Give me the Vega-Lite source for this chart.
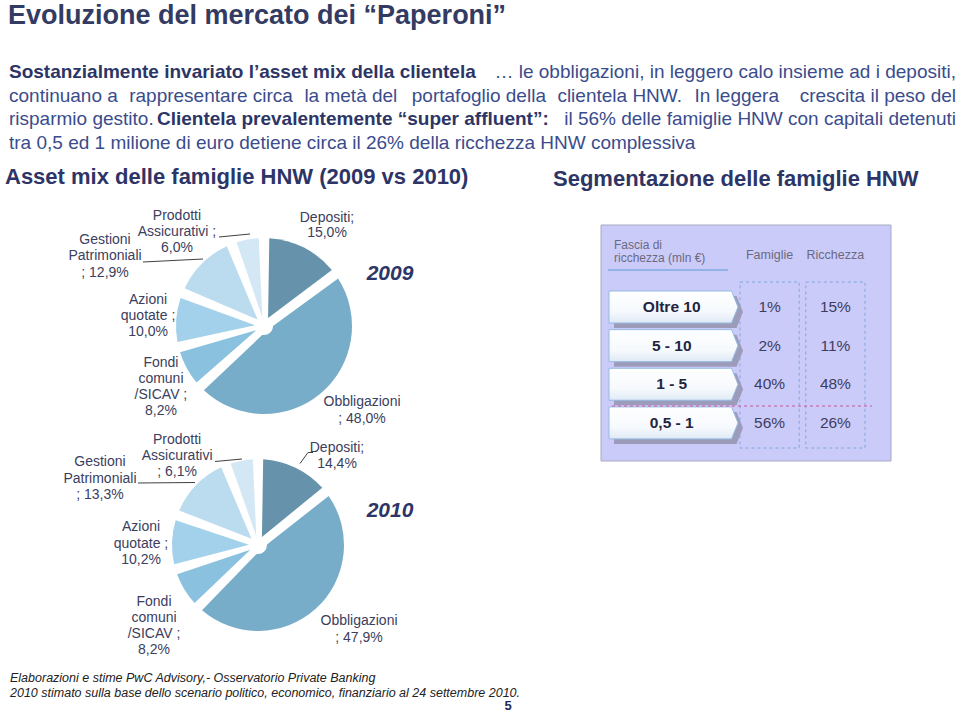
{
 "$schema": "https://vega.github.io/schema/vega-lite/v6.json",
 "width": 960, "height": 713,
 "autosize": {"type": "fit", "contains": "padding"},
 "padding": 0,
 "background": "#ffffff",
 "config": {"view": {"stroke": null}},
 "datasets": {
  "pie": [
   {"year": 2009, "cat": "Depositi", "value": 15.0, "ord": 1, "label": "Depositi;\n15,0%"},
   {"year": 2009, "cat": "Obbligazioni", "value": 48.0, "ord": 2, "label": "Obbligazioni\n; 48,0%"},
   {"year": 2009, "cat": "Fondi comuni /SICAV", "value": 8.2, "ord": 3, "label": "Fondi\ncomuni\n/SICAV ;\n8,2%"},
   {"year": 2009, "cat": "Azioni quotate", "value": 10.0, "ord": 4, "label": "Azioni\nquotate ;\n10,0%"},
   {"year": 2009, "cat": "Gestioni Patrimoniali", "value": 12.9, "ord": 5, "label": "Gestioni\nPatrimoniali\n; 12,9%"},
   {"year": 2009, "cat": "Prodotti Assicurativi", "value": 6.0, "ord": 6, "label": "Prodotti\nAssicurativi ;\n6,0%"},
   {"year": 2010, "cat": "Depositi", "value": 14.4, "ord": 1, "label": "Depositi;\n14,4%"},
   {"year": 2010, "cat": "Obbligazioni", "value": 47.9, "ord": 2, "label": "Obbligazioni\n; 47,9%"},
   {"year": 2010, "cat": "Fondi comuni /SICAV", "value": 8.2, "ord": 3, "label": "Fondi\ncomuni\n/SICAV ;\n8,2%"},
   {"year": 2010, "cat": "Azioni quotate", "value": 10.2, "ord": 4, "label": "Azioni\nquotate ;\n10,2%"},
   {"year": 2010, "cat": "Gestioni Patrimoniali", "value": 13.3, "ord": 5, "label": "Gestioni\nPatrimoniali\n; 13,3%"},
   {"year": 2010, "cat": "Prodotti Assicurativi", "value": 6.1, "ord": 6, "label": "Prodotti\nAssicurativi\n; 6,1%"}
  ],
  "tab": [
   {"tier": "Oltre 10", "col": "Famiglie", "v": 0.01},
   {"tier": "Oltre 10", "col": "Ricchezza", "v": 0.15},
   {"tier": "5 - 10", "col": "Famiglie", "v": 0.02},
   {"tier": "5 - 10", "col": "Ricchezza", "v": 0.11},
   {"tier": "1 - 5", "col": "Famiglie", "v": 0.40},
   {"tier": "1 - 5", "col": "Ricchezza", "v": 0.48},
   {"tier": "0,5 - 1", "col": "Famiglie", "v": 0.56},
   {"tier": "0,5 - 1", "col": "Ricchezza", "v": 0.26}
  ]
 },
 "layer": [
  {"data": {"values": [{"t": "Evoluzione del mercato dei “Paperoni”"}]},
   "mark": {"type": "text", "x": 8, "y": 24, "align": "left", "baseline": "alphabetic", "font": "Liberation Sans", "fontSize": 27, "fontWeight": "bold", "color": "#333b63"},
   "encoding": {"text": {"field": "t", "type": "nominal"}}},

  {"data": {"values": [{"t": "Sostanzialmente invariato l’asset mix della clientela"}]},
   "mark": {"type": "text", "x": 9, "y": 78, "align": "left", "baseline": "alphabetic", "font": "Liberation Sans", "fontSize": 19, "fontWeight": "bold", "color": "#2d3566"},
   "encoding": {"text": {"field": "t", "type": "nominal"}}},
  {"data": {"values": [{"t": "… le obbligazioni, in leggero calo insieme ad i depositi,"}]},
   "mark": {"type": "text", "x": 956, "y": 78, "align": "right", "baseline": "alphabetic", "font": "Liberation Sans", "fontSize": 19, "color": "#3a4c8c"},
   "encoding": {"text": {"field": "t", "type": "nominal"}}},
  {"data": {"values": [{"t": "continuano a"}]},
   "mark": {"type": "text", "x": 9, "y": 101.5, "align": "left", "baseline": "alphabetic", "font": "Liberation Sans", "fontSize": 19, "color": "#3a4c8c"},
   "encoding": {"text": {"field": "t", "type": "nominal"}}},
  {"data": {"values": [{"t": "rappresentare circa"}]},
   "mark": {"type": "text", "x": 129.2, "y": 101.5, "align": "left", "baseline": "alphabetic", "font": "Liberation Sans", "fontSize": 19, "color": "#3a4c8c"},
   "encoding": {"text": {"field": "t", "type": "nominal"}}},
  {"data": {"values": [{"t": "la metà del"}]},
   "mark": {"type": "text", "x": 304.4, "y": 101.5, "align": "left", "baseline": "alphabetic", "font": "Liberation Sans", "fontSize": 19, "color": "#3a4c8c"},
   "encoding": {"text": {"field": "t", "type": "nominal"}}},
  {"data": {"values": [{"t": "portafoglio della"}]},
   "mark": {"type": "text", "x": 411.8, "y": 101.5, "align": "left", "baseline": "alphabetic", "font": "Liberation Sans", "fontSize": 19, "color": "#3a4c8c"},
   "encoding": {"text": {"field": "t", "type": "nominal"}}},
  {"data": {"values": [{"t": "clientela HNW."}]},
   "mark": {"type": "text", "x": 557.4, "y": 101.5, "align": "left", "baseline": "alphabetic", "font": "Liberation Sans", "fontSize": 19, "color": "#3a4c8c"},
   "encoding": {"text": {"field": "t", "type": "nominal"}}},
  {"data": {"values": [{"t": "In leggera"}]},
   "mark": {"type": "text", "x": 694.5, "y": 101.5, "align": "left", "baseline": "alphabetic", "font": "Liberation Sans", "fontSize": 19, "color": "#3a4c8c"},
   "encoding": {"text": {"field": "t", "type": "nominal"}}},
  {"data": {"values": [{"t": "crescita il peso del"}]},
   "mark": {"type": "text", "x": 956, "y": 101.5, "align": "right", "baseline": "alphabetic", "font": "Liberation Sans", "fontSize": 19, "color": "#3a4c8c"},
   "encoding": {"text": {"field": "t", "type": "nominal"}}},
  {"data": {"values": [{"t": "risparmio gestito."}]},
   "mark": {"type": "text", "x": 9, "y": 125, "align": "left", "baseline": "alphabetic", "font": "Liberation Sans", "fontSize": 19, "color": "#3a4c8c"},
   "encoding": {"text": {"field": "t", "type": "nominal"}}},
  {"data": {"values": [{"t": "Clientela prevalentemente “super affluent”:"}]},
   "mark": {"type": "text", "x": 157, "y": 125, "align": "left", "baseline": "alphabetic", "font": "Liberation Sans", "fontSize": 19, "fontWeight": "bold", "color": "#2d3566"},
   "encoding": {"text": {"field": "t", "type": "nominal"}}},
  {"data": {"values": [{"t": "il 56% delle famiglie HNW con capitali detenuti"}]},
   "mark": {"type": "text", "x": 956, "y": 125, "align": "right", "baseline": "alphabetic", "font": "Liberation Sans", "fontSize": 19, "color": "#3a4c8c"},
   "encoding": {"text": {"field": "t", "type": "nominal"}}},
  {"data": {"values": [{"t": "tra 0,5 ed 1 milione di euro detiene circa il 26% della ricchezza HNW complessiva"}]},
   "mark": {"type": "text", "x": 9, "y": 148.5, "align": "left", "baseline": "alphabetic", "font": "Liberation Sans", "fontSize": 19, "color": "#3a4c8c"},
   "encoding": {"text": {"field": "t", "type": "nominal"}}},

  {"data": {"values": [{"t": "Asset mix delle famiglie HNW (2009 vs 2010)"}]},
   "mark": {"type": "text", "x": 5, "y": 184, "align": "left", "baseline": "alphabetic", "font": "Liberation Sans", "fontSize": 22, "fontWeight": "bold", "color": "#2d3566"},
   "encoding": {"text": {"field": "t", "type": "nominal"}}},
  {"data": {"values": [{"t": "Segmentazione delle famiglie HNW"}]},
   "mark": {"type": "text", "x": 553, "y": 186, "align": "left", "baseline": "alphabetic", "font": "Liberation Sans", "fontSize": 22, "fontWeight": "bold", "color": "#2d3566"},
   "encoding": {"text": {"field": "t", "type": "nominal"}}},

  {"data": {"name": "pie"},
   "transform": [{"filter": "datum.year === 2009"}],
   "encoding": {
    "theta": {"field": "value", "type": "quantitative", "stack": true},
    "order": {"field": "ord", "type": "quantitative"}
   },
   "layer": [
    {"mark": {"type": "arc", "x": 264, "y": 326, "outerRadius": 88, "innerRadius": 9, "padAngle": 0.12},
     "encoding": {"color": {"field": "cat", "type": "nominal", "legend": null,
       "scale": {"domain": ["Depositi", "Obbligazioni", "Fondi comuni /SICAV", "Azioni quotate", "Gestioni Patrimoniali", "Prodotti Assicurativi"],
                 "range": ["#6693ab", "#78adc9", "#89c1de", "#a3d0ea", "#bbdbef", "#d4e7f4"]}}}},
    {"mark": {"type": "text", "x": 264, "y": 326, "radius": 118.6, "thetaOffset": 0.089, "dy": -7.75, "align": "center", "baseline": "middle", "lineBreak": "\n", "lineHeight": 15.5, "font": "Liberation Sans", "fontSize": 14, "color": "#3b4060"},
     "encoding": {"text": {"condition": {"test": "datum.cat === 'Depositi'", "field": "label", "type": "nominal"}, "value": ""}}},
    {"mark": {"type": "text", "x": 264, "y": 326, "radius": 129.4, "thetaOffset": -0.166, "dy": -8.25, "align": "center", "baseline": "middle", "lineBreak": "\n", "lineHeight": 16.5, "font": "Liberation Sans", "fontSize": 14, "color": "#3b4060"},
     "encoding": {"text": {"condition": {"test": "datum.cat === 'Obbligazioni'", "field": "label", "type": "nominal"}, "value": ""}}},
    {"mark": {"type": "text", "x": 264, "y": 326, "radius": 119.7, "thetaOffset": -0.033, "dy": -24, "align": "center", "baseline": "middle", "lineBreak": "\n", "lineHeight": 16, "font": "Liberation Sans", "fontSize": 14, "color": "#3b4060"},
     "encoding": {"text": {"condition": {"test": "datum.cat === 'Fondi comuni /SICAV'", "field": "label", "type": "nominal"}, "value": ""}}},
    {"mark": {"type": "text", "x": 264, "y": 326, "radius": 116.4, "thetaOffset": 0.016, "dy": -16, "align": "center", "baseline": "middle", "lineBreak": "\n", "lineHeight": 16, "font": "Liberation Sans", "fontSize": 14, "color": "#3b4060"},
     "encoding": {"text": {"condition": {"test": "datum.cat === 'Azioni quotate'", "field": "label", "type": "nominal"}, "value": ""}}},
    {"mark": {"type": "text", "x": 264, "y": 326, "radius": 173.5, "thetaOffset": -0.377, "dy": -16.5, "align": "center", "baseline": "middle", "lineBreak": "\n", "lineHeight": 16.5, "font": "Liberation Sans", "fontSize": 14, "color": "#3b4060"},
     "encoding": {"text": {"condition": {"test": "datum.cat === 'Gestioni Patrimoniali'", "field": "label", "type": "nominal"}, "value": ""}}},
    {"mark": {"type": "text", "x": 264, "y": 326, "radius": 128.1, "thetaOffset": -0.559, "dy": -16, "align": "center", "baseline": "middle", "lineBreak": "\n", "lineHeight": 16, "font": "Liberation Sans", "fontSize": 14, "color": "#3b4060"},
     "encoding": {"text": {"condition": {"test": "datum.cat === 'Prodotti Assicurativi'", "field": "label", "type": "nominal"}, "value": ""}}}
   ]},

  {"data": {"name": "pie"},
   "transform": [{"filter": "datum.year === 2010"}],
   "encoding": {
    "theta": {"field": "value", "type": "quantitative", "stack": true},
    "order": {"field": "ord", "type": "quantitative"}
   },
   "layer": [
    {"mark": {"type": "arc", "x": 258, "y": 545, "outerRadius": 86, "innerRadius": 9, "padAngle": 0.12},
     "encoding": {"color": {"field": "cat", "type": "nominal", "legend": null,
       "scale": {"domain": ["Depositi", "Obbligazioni", "Fondi comuni /SICAV", "Azioni quotate", "Gestioni Patrimoniali", "Prodotti Assicurativi"],
                 "range": ["#6693ab", "#78adc9", "#89c1de", "#a3d0ea", "#bbdbef", "#d4e7f4"]}}}},
    {"mark": {"type": "text", "x": 258, "y": 545, "radius": 119.0, "thetaOffset": 0.274, "dy": -8, "align": "center", "baseline": "middle", "lineBreak": "\n", "lineHeight": 16, "font": "Liberation Sans", "fontSize": 14, "color": "#3b4060"},
     "encoding": {"text": {"condition": {"test": "datum.cat === 'Depositi'", "field": "label", "type": "nominal"}, "value": ""}}},
    {"mark": {"type": "text", "x": 258, "y": 545, "radius": 131.7, "thetaOffset": -0.140, "dy": -8.25, "align": "center", "baseline": "middle", "lineBreak": "\n", "lineHeight": 16.5, "font": "Liberation Sans", "fontSize": 14, "color": "#3b4060"},
     "encoding": {"text": {"condition": {"test": "datum.cat === 'Obbligazioni'", "field": "label", "type": "nominal"}, "value": ""}}},
    {"mark": {"type": "text", "x": 258, "y": 545, "radius": 131.8, "thetaOffset": -0.117, "dy": -24, "align": "center", "baseline": "middle", "lineBreak": "\n", "lineHeight": 16, "font": "Liberation Sans", "fontSize": 14, "color": "#3b4060"},
     "encoding": {"text": {"condition": {"test": "datum.cat === 'Fondi comuni /SICAV'", "field": "label", "type": "nominal"}, "value": ""}}},
    {"mark": {"type": "text", "x": 258, "y": 545, "radius": 117.0, "thetaOffset": -0.021, "dy": -16.5, "align": "center", "baseline": "middle", "lineBreak": "\n", "lineHeight": 16.5, "font": "Liberation Sans", "fontSize": 14, "color": "#3b4060"},
     "encoding": {"text": {"condition": {"test": "datum.cat === 'Azioni quotate'", "field": "label", "type": "nominal"}, "value": ""}}},
    {"mark": {"type": "text", "x": 258, "y": 545, "radius": 171.4, "thetaOffset": -0.373, "dy": -16.5, "align": "center", "baseline": "middle", "lineBreak": "\n", "lineHeight": 16.5, "font": "Liberation Sans", "fontSize": 14, "color": "#3b4060"},
     "encoding": {"text": {"condition": {"test": "datum.cat === 'Gestioni Patrimoniali'", "field": "label", "type": "nominal"}, "value": ""}}},
    {"mark": {"type": "text", "x": 258, "y": 545, "radius": 120.3, "thetaOffset": -0.546, "dy": -16, "align": "center", "baseline": "middle", "lineBreak": "\n", "lineHeight": 16, "font": "Liberation Sans", "fontSize": 14, "color": "#3b4060"},
     "encoding": {"text": {"condition": {"test": "datum.cat === 'Prodotti Assicurativi'", "field": "label", "type": "nominal"}, "value": ""}}}
   ]},

  {"data": {"values": [{}]}, "mark": {"type": "rule", "color": "#404040", "strokeWidth": 1},
   "encoding": {"x": {"value": 143}, "y": {"value": 262}, "x2": {"value": 203}, "y2": {"value": 259}}},
  {"data": {"values": [{}]}, "mark": {"type": "rule", "color": "#404040", "strokeWidth": 1},
   "encoding": {"x": {"value": 219}, "y": {"value": 237}, "x2": {"value": 250}, "y2": {"value": 234}}},
  {"data": {"values": [{}]}, "mark": {"type": "rule", "color": "#404040", "strokeWidth": 1},
   "encoding": {"x": {"value": 138}, "y": {"value": 483}, "x2": {"value": 195}, "y2": {"value": 482.5}}},
  {"data": {"values": [{}]}, "mark": {"type": "rule", "color": "#404040", "strokeWidth": 1},
   "encoding": {"x": {"value": 215}, "y": {"value": 461.5}, "x2": {"value": 242}, "y2": {"value": 459}}},
  {"data": {"values": [{}]}, "mark": {"type": "rule", "color": "#404040", "strokeWidth": 1},
   "encoding": {"x": {"value": 300}, "y": {"value": 463.5}, "x2": {"value": 308}, "y2": {"value": 452.5}}},
  {"data": {"values": [{}]}, "mark": {"type": "rule", "color": "#404040", "strokeWidth": 1},
   "encoding": {"x": {"value": 308}, "y": {"value": 452.5}, "x2": {"value": 313}, "y2": {"value": 452.5}}},

  {"data": {"values": [{"t": "2009"}]},
   "mark": {"type": "text", "x": 390, "y": 280, "align": "center", "baseline": "alphabetic", "font": "Liberation Sans", "fontSize": 21, "fontWeight": "bold", "fontStyle": "italic", "color": "#2d3566"},
   "encoding": {"text": {"field": "t", "type": "nominal"}}},
  {"data": {"values": [{"t": "2010"}]},
   "mark": {"type": "text", "x": 390, "y": 517, "align": "center", "baseline": "alphabetic", "font": "Liberation Sans", "fontSize": 21, "fontWeight": "bold", "fontStyle": "italic", "color": "#2d3566"},
   "encoding": {"text": {"field": "t", "type": "nominal"}}},

  {"data": {"values": [{}]}, "mark": {"type": "rect", "x": 601, "y": 225, "x2": 891, "y2": 461, "fill": "#cbcbfa", "stroke": "#a9a9c2", "strokeWidth": 1}, "encoding": {}},
  {"data": {"values": [{"t": "Fascia di\nricchezza (mln €)"}]},
   "mark": {"type": "text", "x": 614, "y": 244.5, "align": "left", "baseline": "middle", "lineBreak": "\n", "lineHeight": 13.5, "font": "Liberation Sans", "fontSize": 12, "color": "#6a6a7e"},
   "encoding": {"text": {"field": "t", "type": "nominal"}}},
  {"data": {"values": [{}]}, "mark": {"type": "rule", "color": "#5b9bd5", "strokeWidth": 1.2},
   "encoding": {"x": {"value": 608}, "y": {"value": 270}, "x2": {"value": 728}, "y2": {"value": 270}}},

  {"data": {"name": "tab"},
   "transform": [{"filter": "datum.tier === 'Oltre 10'"}],
   "mark": {"type": "rect", "y": 282, "y2": 448, "fill": "transparent", "stroke": "#7fa6dc", "strokeDash": [3, 3], "strokeWidth": 1},
   "encoding": {"x": {"field": "col", "type": "nominal", "axis": null,
      "scale": {"domain": ["Famiglie", "Ricchezza"], "range": [740, 865], "paddingInner": 0.1, "paddingOuter": 0}}}},
  {"data": {"name": "tab"},
   "transform": [{"filter": "datum.tier === 'Oltre 10'"}],
   "mark": {"type": "text", "y": 255, "align": "center", "baseline": "middle", "font": "Liberation Sans", "fontSize": 12.5, "color": "#6a6a7e"},
   "encoding": {"x": {"field": "col", "type": "nominal", "axis": null,
      "scale": {"domain": ["Famiglie", "Ricchezza"], "range": [740, 865], "paddingInner": 0.1, "paddingOuter": 0}},
     "text": {"field": "col", "type": "nominal"}}},

  {"data": {"name": "tab"},
   "transform": [{"filter": "datum.col === 'Famiglie'"}],
   "mark": {"type": "point", "shape": "M -1 -0.248 L 0.9 -0.248 L 1 0 L 0.9 0.248 L -1 0.248 Z", "size": 16641, "x": 673.5, "xOffset": 5, "yOffset": 5, "filled": true, "fill": "#9c9cba", "opacity": 1, "strokeWidth": 0},
   "encoding": {"y": {"field": "tier", "type": "nominal", "axis": null,
      "scale": {"domain": ["Oltre 10", "5 - 10", "1 - 5", "0,5 - 1"], "range": [287.7, 442.2], "paddingInner": 0.2, "paddingOuter": 0}}}},
  {"data": {"name": "tab"},
   "transform": [{"filter": "datum.col === 'Famiglie'"}],
   "mark": {"type": "point", "shape": "M -1 -0.248 L 0.9 -0.248 L 1 0 L 0.9 0.248 L -1 0.248 Z", "size": 16641, "x": 673.5, "filled": true, "opacity": 1,
     "fill": {"gradient": "linear", "x1": 0, "y1": 0, "x2": 0, "y2": 1, "stops": [{"offset": 0, "color": "#ffffff"}, {"offset": 0.65, "color": "#f6f9fd"}, {"offset": 1, "color": "#dfe9f5"}]},
     "stroke": "#94bbe0", "strokeWidth": 1},
   "encoding": {"y": {"field": "tier", "type": "nominal", "axis": null,
      "scale": {"domain": ["Oltre 10", "5 - 10", "1 - 5", "0,5 - 1"], "range": [287.7, 442.2], "paddingInner": 0.2, "paddingOuter": 0}}}},
  {"data": {"values": [{}]}, "mark": {"type": "rule", "color": "#c8589a", "strokeDash": [3, 3], "strokeWidth": 1.2},
   "encoding": {"x": {"value": 612}, "y": {"value": 406}, "x2": {"value": 872}, "y2": {"value": 406}}},
  {"data": {"name": "tab"},
   "transform": [{"filter": "datum.col === 'Famiglie'"}],
   "mark": {"type": "text", "x": 671.7, "align": "center", "baseline": "middle", "font": "Liberation Sans", "fontSize": 15.5, "fontWeight": "bold", "color": "#22253f"},
   "encoding": {"y": {"field": "tier", "type": "nominal", "axis": null,
      "scale": {"domain": ["Oltre 10", "5 - 10", "1 - 5", "0,5 - 1"], "range": [287.7, 442.2], "paddingInner": 0.2, "paddingOuter": 0}},
     "text": {"field": "tier", "type": "nominal"}}},
  {"data": {"name": "tab"},
   "mark": {"type": "text", "align": "center", "baseline": "middle", "font": "Liberation Sans", "fontSize": 15.5, "color": "#3d3d5e"},
   "encoding": {
     "x": {"field": "col", "type": "nominal", "axis": null,
      "scale": {"domain": ["Famiglie", "Ricchezza"], "range": [740, 865], "paddingInner": 0.1, "paddingOuter": 0}},
     "y": {"field": "tier", "type": "nominal", "axis": null,
      "scale": {"domain": ["Oltre 10", "5 - 10", "1 - 5", "0,5 - 1"], "range": [287.7, 442.2], "paddingInner": 0.2, "paddingOuter": 0}},
     "text": {"field": "v", "type": "quantitative", "format": ".0%"}}},

  {"data": {"values": [{"t": "Elaborazioni e stime PwC Advisory,- Osservatorio Private Banking"}]},
   "mark": {"type": "text", "x": 10, "y": 682, "align": "left", "baseline": "alphabetic", "font": "Liberation Sans", "fontSize": 12.5, "fontStyle": "italic", "color": "#222222"},
   "encoding": {"text": {"field": "t", "type": "nominal"}}},
  {"data": {"values": [{"t": "2010 stimato sulla base dello scenario politico, economico, finanziario al 24 settembre 2010."}]},
   "mark": {"type": "text", "x": 10, "y": 696.5, "align": "left", "baseline": "alphabetic", "font": "Liberation Sans", "fontSize": 12.5, "fontStyle": "italic", "color": "#222222"},
   "encoding": {"text": {"field": "t", "type": "nominal"}}},
  {"data": {"values": [{"t": "5"}]},
   "mark": {"type": "text", "x": 508, "y": 710, "align": "center", "baseline": "alphabetic", "font": "Liberation Sans", "fontSize": 13, "fontWeight": "bold", "color": "#1f2a5c"},
   "encoding": {"text": {"field": "t", "type": "nominal"}}}
 ]
}
